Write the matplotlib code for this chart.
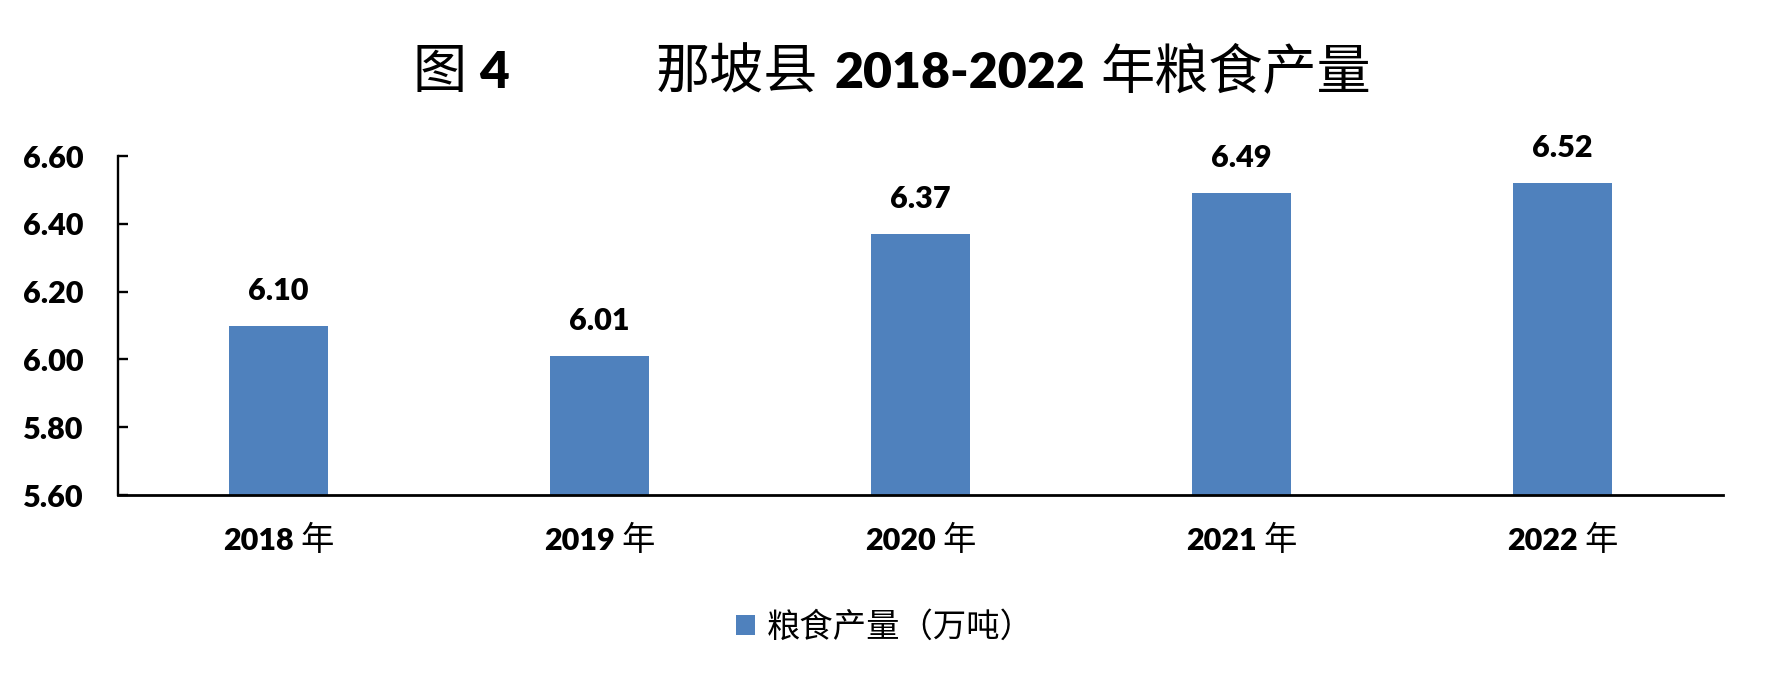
import matplotlib
matplotlib.use('Agg')
import matplotlib.pyplot as plt
from matplotlib.font_manager import FontProperties

years = ['2018', '2019', '2020', '2021', '2022']
output = [6.10, 6.01, 6.37, 6.49, 6.52]
yticks = [5.60, 5.80, 6.00, 6.20, 6.40, 6.60]
legend_label = '粮食产量（万吨）'

BLUE = '#4F81BD'
CJK = 'Noto Sans CJK SC'
NUM = 'Lato'
HEAVY = 'heavy'

fig = plt.figure(figsize=(17.7, 6.84), dpi=100)
ax = fig.add_axes([0.0667, 0.2763, 0.9067, 0.4956])

x = list(range(len(years)))
bars = ax.bar(x, output, width=0.31, color=BLUE, zorder=2)

ax.set_xlim(-0.5, len(years) - 0.5)
ax.set_ylim(yticks[0], yticks[-1])
ax.set_yticks(yticks)
ax.set_yticklabels(['%.2f' % v for v in yticks], fontfamily=NUM,
                   fontweight=HEAVY, fontsize=22)
ax.set_xticks([])
ax.tick_params(axis='y', direction='in', length=7, width=1.7, pad=25)

for s in ['top', 'right']:
    ax.spines[s].set_visible(False)
ax.spines['left'].set_linewidth(1.7)
ax.spines['bottom'].set_linewidth(2.0)

# value labels above bars
for xi, v in zip(x, output):
    ax.annotate('%.2f' % v, (xi, v), xytext=(0, 15), textcoords='offset points',
                ha='center', va='bottom', fontfamily=NUM, fontweight=HEAVY,
                fontsize=22)

renderer = fig.canvas.get_renderer()
W = fig.bbox.width


def rich_line(cx_px, y_frac, parts):
    # parts: (text, kwargs, gap after in px); laid out left to right, centred on cx_px
    objs = []
    for s, kw, gap in parts:
        t = fig.text(0, y_frac, s, ha='left', va='baseline', **kw)
        w = t.get_window_extent(renderer).width
        objs.append((t, w, gap))
    total = sum(w + g for _, w, g in objs) - objs[-1][2]
    x0 = cx_px - total / 2
    for t, w, g in objs:
        t.set_x(x0 / W)
        x0 += w + g


num_bold = dict(fontfamily=NUM, fontweight=HEAVY)
cjk = dict(fontfamily=CJK)

# title
rich_line(0.504 * W, 0.871, [
    ('图', dict(cjk, fontsize=39), 12),
    ('4', dict(num_bold, fontsize=37), 147),
    ('那坡县', dict(cjk, fontsize=39), 16),
    ('2018-2022', dict(num_bold, fontsize=36), 16),
    ('年粮食产量', dict(cjk, fontsize=39), 0),
])

# category labels
for xi, yr in zip(x, years):
    cx = ax.transData.transform((xi, output[xi]))[0]
    rich_line(cx, 0.196, [
        (yr, dict(num_bold, fontsize=22), 7),
        ('年', dict(cjk, fontsize=24), 0),
    ])

fig.legend([bars], [legend_label], loc='center', bbox_to_anchor=(0.5, 0.083),
           frameon=False, prop=FontProperties(family=CJK, size=24),
           handlelength=0.58, handleheight=0.58, handletextpad=0.36)

fig.savefig('out.png', dpi=100, facecolor='white')
